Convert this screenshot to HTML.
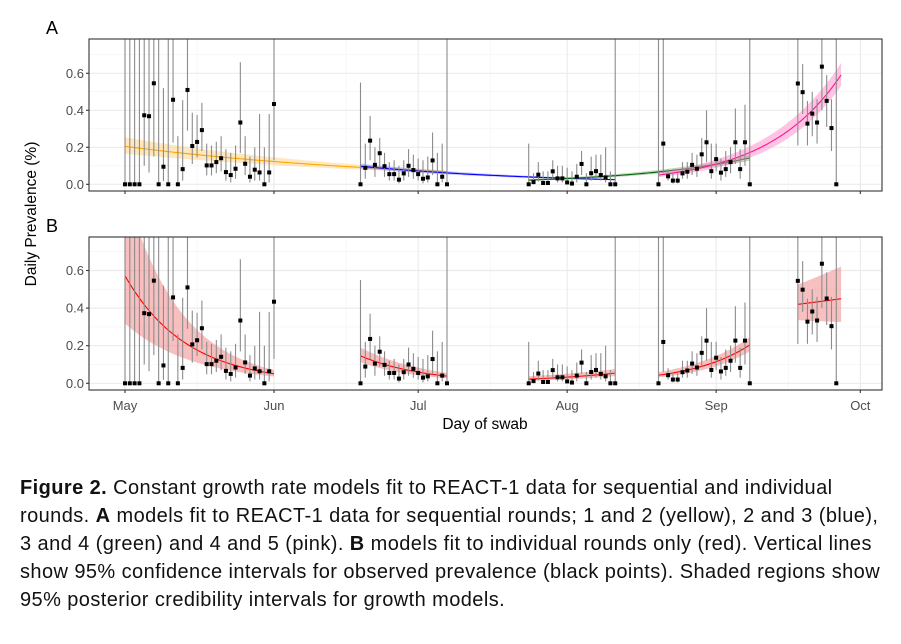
<!DOCTYPE html>
<html><head><meta charset="utf-8">
<style>
body{margin:0;background:#fff;width:901px;height:644px;overflow:hidden;font-family:"Liberation Sans",sans-serif}
#cap{position:absolute;left:20px;top:474px;font-size:20px;letter-spacing:0.42px;line-height:28px;color:#111;white-space:nowrap}
</style></head><body>
<svg id="chart" width="901" height="470" style="position:absolute;left:0;top:0" font-family="Liberation Sans, sans-serif"></svg>
<div id="cap"><b>Figure 2.</b> Constant growth rate models fit to REACT-1 data for sequential and individual<br>rounds. <b>A</b> models fit to REACT-1 data for sequential rounds; 1 and 2 (yellow), 2 and 3 (blue),<br>3 and 4 (green) and 4 and 5 (pink). <b>B</b> models fit to individual rounds only (red). Vertical lines<br>show 95% confidence intervals for observed prevalence (black points). Shaded regions show<br>95% posterior credibility intervals for growth models.</div>
<script>
const roundStart=[0,49,84,111,140];
const vals=[
[0,0,0,0,0.373,0.368,0.546,0,0.095,0,0.457,0,0.082,0.51,0.207,0.229,0.293,0.102,0.102,0.12,0.141,0.066,0.05,0.084,0.334,0.111,0.041,0.079,0.064,0,0.064,0.434],
[0,0.089,0.236,0.105,0.168,0.098,0.055,0.055,0.025,0.059,0.1,0.077,0.055,0.03,0.037,0.129,0,0.041,0],
[0,0.012,0.052,0.007,0.007,0.07,0.032,0.032,0.01,0.004,0.041,0.11,0,0.06,0.071,0.05,0.037,0,0],
[0,0.22,0.043,0.02,0.02,0.059,0.068,0.105,0.084,0.162,0.227,0.071,0.136,0.063,0.082,0.12,0.227,0.082,0.227,0],
[0.545,0.498,0.328,0.382,0.334,0.636,0.451,0.304,0]];
const hiCI=[
[1,1,1,1,1,1,1,1,0.52,1,1,0.26,0.455,1,0.387,0.375,0.44,0.22,0.21,0.23,0.26,0.19,0.17,0.21,0.66,0.26,0.15,0.2,0.38,0.2,0.38,1],
[0.55,0.22,0.37,0.2,0.25,0.17,0.12,0.13,0.1,0.13,0.19,0.16,0.14,0.13,0.15,0.28,0.17,0.22,1],
[0.22,0.06,0.12,0.07,0.07,0.13,0.1,0.1,0.09,0.07,0.11,0.18,0.06,0.15,0.16,0.16,0.2,0.07,1],
[1,1,0.08,0.06,0.06,0.12,0.12,0.17,0.16,0.25,0.4,0.22,0.22,0.14,0.18,0.2,0.41,0.19,0.43,1],
[1,0.65,0.45,0.5,0.46,1,0.59,0.46,1]];
const loCI=[
[0,0,0,0,0.1,0.064,0.15,0,0.018,0,0.225,0,0.02,0.29,0.11,0.145,0.18,0.048,0.048,0.06,0.07,0.02,0.01,0.03,0.17,0.05,0.01,0.02,0.02,0,0.01,0.13],
[0,0.03,0.13,0.04,0.09,0.04,0.02,0.02,0.005,0.02,0.04,0.03,0.02,0.005,0.01,0.05,0,0.01,0],
[0,0,0.015,0,0,0.03,0.01,0.01,0,0,0.01,0.05,0,0.02,0.03,0.02,0.01,0,0],
[0,0.06,0.02,0.005,0.005,0.03,0.03,0.05,0.04,0.09,0.12,0.03,0.07,0.02,0.04,0.06,0.11,0.03,0.1,0],
[0.21,0.38,0.21,0.26,0.22,0.4,0.31,0.18,0]];
// models: [startDay,endDay,startValue,growthRate,bandStart,bandEnd]
const modelsA=[[0,67,0.205,-0.01647,0.24,0.12],[49,102,0.098,-0.0258,0.14,0.16],[84,130,0.0227,0.04,0.22,0.12],[111,149,0.05,0.065,0.28,0.11]];
const colorsA=["#FFA500","#0000FF","#006400","#FF1493"];
const fillsA=["#FFD27F","#8080FF","#80B080","#FF8AC8"];
const modelsB=[[0,31,0.572,-0.0782,0.8,0.4],[49,67,0.146,-0.0748,0.3,0.45],[84,102,0.022,0.05,0.7,0.4],[111,130,0.043,0.082,0.38,0.2],[140,149,0.42,0.0076,0.25,0.38]];
const yTicks=[0,0.2,0.4,0.6];
const yTickLabels=["0.0","0.2","0.4","0.6"];
const monthDays=[0,31,61,92,123,153];
const monthLabels=["May","Jun","Jul","Aug","Sep","Oct"];

const NS="http://www.w3.org/2000/svg";
const svg=document.getElementById('chart');
function mk(t,a,p){const e=document.createElementNS(NS,t);for(const k in a)e.setAttribute(k,a[k]);(p||svg).appendChild(e);return e;}
const X0=89,X1=882;
const xs=d=>125+d*4.806;
const panels=[{top:39,bot:191,zero:184.3,k:185,name:'a'},{top:237,bot:390,zero:383.3,k:188,name:'b'}];
const defs=mk('defs',{});
panels.forEach((P,i)=>{
  const cp=mk('clipPath',{id:'clip'+i},defs);
  mk('rect',{x:X0,y:P.top,width:X1-X0,height:P.bot-P.top},cp);
});
panels.forEach((P,pi)=>{
  const ys=v=>P.zero-v*P.k;
  const g=mk('g',{});
  
  
  const inner=mk('g',{'clip-path':'url(#clip'+pi+')'},g);
  [0.1,0.3,0.5,0.7].forEach(v=>mk('line',{x1:X0,x2:X1,y1:ys(v),y2:ys(v),stroke:'#f2f2f2','stroke-width':0.6},inner));
  [15,46,76,107,138].forEach(d=>mk('line',{x1:xs(d),x2:xs(d),y1:P.top,y2:P.bot,stroke:'#f2f2f2','stroke-width':0.6},inner));
  yTicks.forEach(v=>mk('line',{x1:X0,x2:X1,y1:ys(v),y2:ys(v),stroke:'#ebebeb','stroke-width':1.2},inner));
  monthDays.forEach(d=>mk('line',{x1:xs(d),x2:xs(d),y1:P.top,y2:P.bot,stroke:'#ebebeb','stroke-width':1.2},inner));
  const models=pi==0?modelsA:modelsB;
  models.forEach((m,mi)=>{
    const [s,e,v0,r,w0,w1]=m;
    const c=pi==0?colorsA[mi]:'#FF0000', f=pi==0?fillsA[mi]:'#F08080';
    let up=[],dn=[],mid=[];
    for(let d=s;d<=e+1e-9;d+=0.5){
      const v=v0*Math.exp(r*(d-s));const w=1+w0+(w1-w0)*(d-s)/(e-s);
      mid.push(xs(d)+','+ys(v));up.push(xs(d)+','+ys(Math.min(v*w,1)));dn.unshift(xs(d)+','+ys(v/w));
    }
    const band=mk('polygon',{points:up.concat(dn).join(' '),fill:f,'fill-opacity':0.5},inner);
    
    
    const ln=mk('polyline',{points:mid.join(' '),fill:'none',stroke:c,'stroke-width':1.1},inner);
    
    
  });
  vals.forEach((arr,ri)=>{arr.forEach((v,j)=>{
    const d=roundStart[ri]+j,x=xs(d);
    const el=mk('line',{x1:x,x2:x,y1:ys(Math.min(hiCI[ri][j],1)),y2:ys(loCI[ri][j]),stroke:'#8c8c8c','stroke-width':1.1},inner);
    
    
  });});
  vals.forEach((arr,ri)=>{arr.forEach((v,j)=>{
    const d=roundStart[ri]+j,x=xs(d);
    const pt=mk('rect',{x:x-2,y:ys(v)-2,width:4,height:4,fill:'#000'},inner);
    
    
  });});
  mk('rect',{x:X0,y:P.top,width:X1-X0,height:P.bot-P.top,fill:'none',stroke:'#333','stroke-width':1.1},g);
  yTicks.forEach((v,i)=>{
    mk('line',{x1:X0-3,x2:X0,y1:ys(v),y2:ys(v),stroke:'#333','stroke-width':1.1},g);
    const t=mk('text',{x:X0-5,y:ys(v)+4.5,'text-anchor':'end','font-size':13,fill:'#4d4d4d'},g);
    t.textContent=yTickLabels[i];
    
    
  });
  monthDays.forEach(d=>mk('line',{x1:xs(d),x2:xs(d),y1:P.bot,y2:P.bot+3,stroke:'#333','stroke-width':1.1},g));
  const lab=mk('text',{x:46,y:pi==0?34:232,'font-size':18,fill:'#000'},g);
  lab.textContent=pi==0?'A':'B';
  
  
});
monthDays.forEach((d,i)=>{
  const t=mk('text',{x:xs(d),y:410,'text-anchor':'middle','font-size':13,fill:'#4d4d4d'});
  t.textContent=monthLabels[i];
  
  
});
const xt=mk('text',{x:485,y:429,'text-anchor':'middle','font-size':15.5,fill:'#000'});
xt.textContent='Day of swab';


const yt=mk('text',{x:0,y:0,'text-anchor':'middle','font-size':15.5,fill:'#000',transform:'translate(36,214) rotate(-90)'});
yt.textContent='Daily Prevalence (%)';


</script>
</body></html>
